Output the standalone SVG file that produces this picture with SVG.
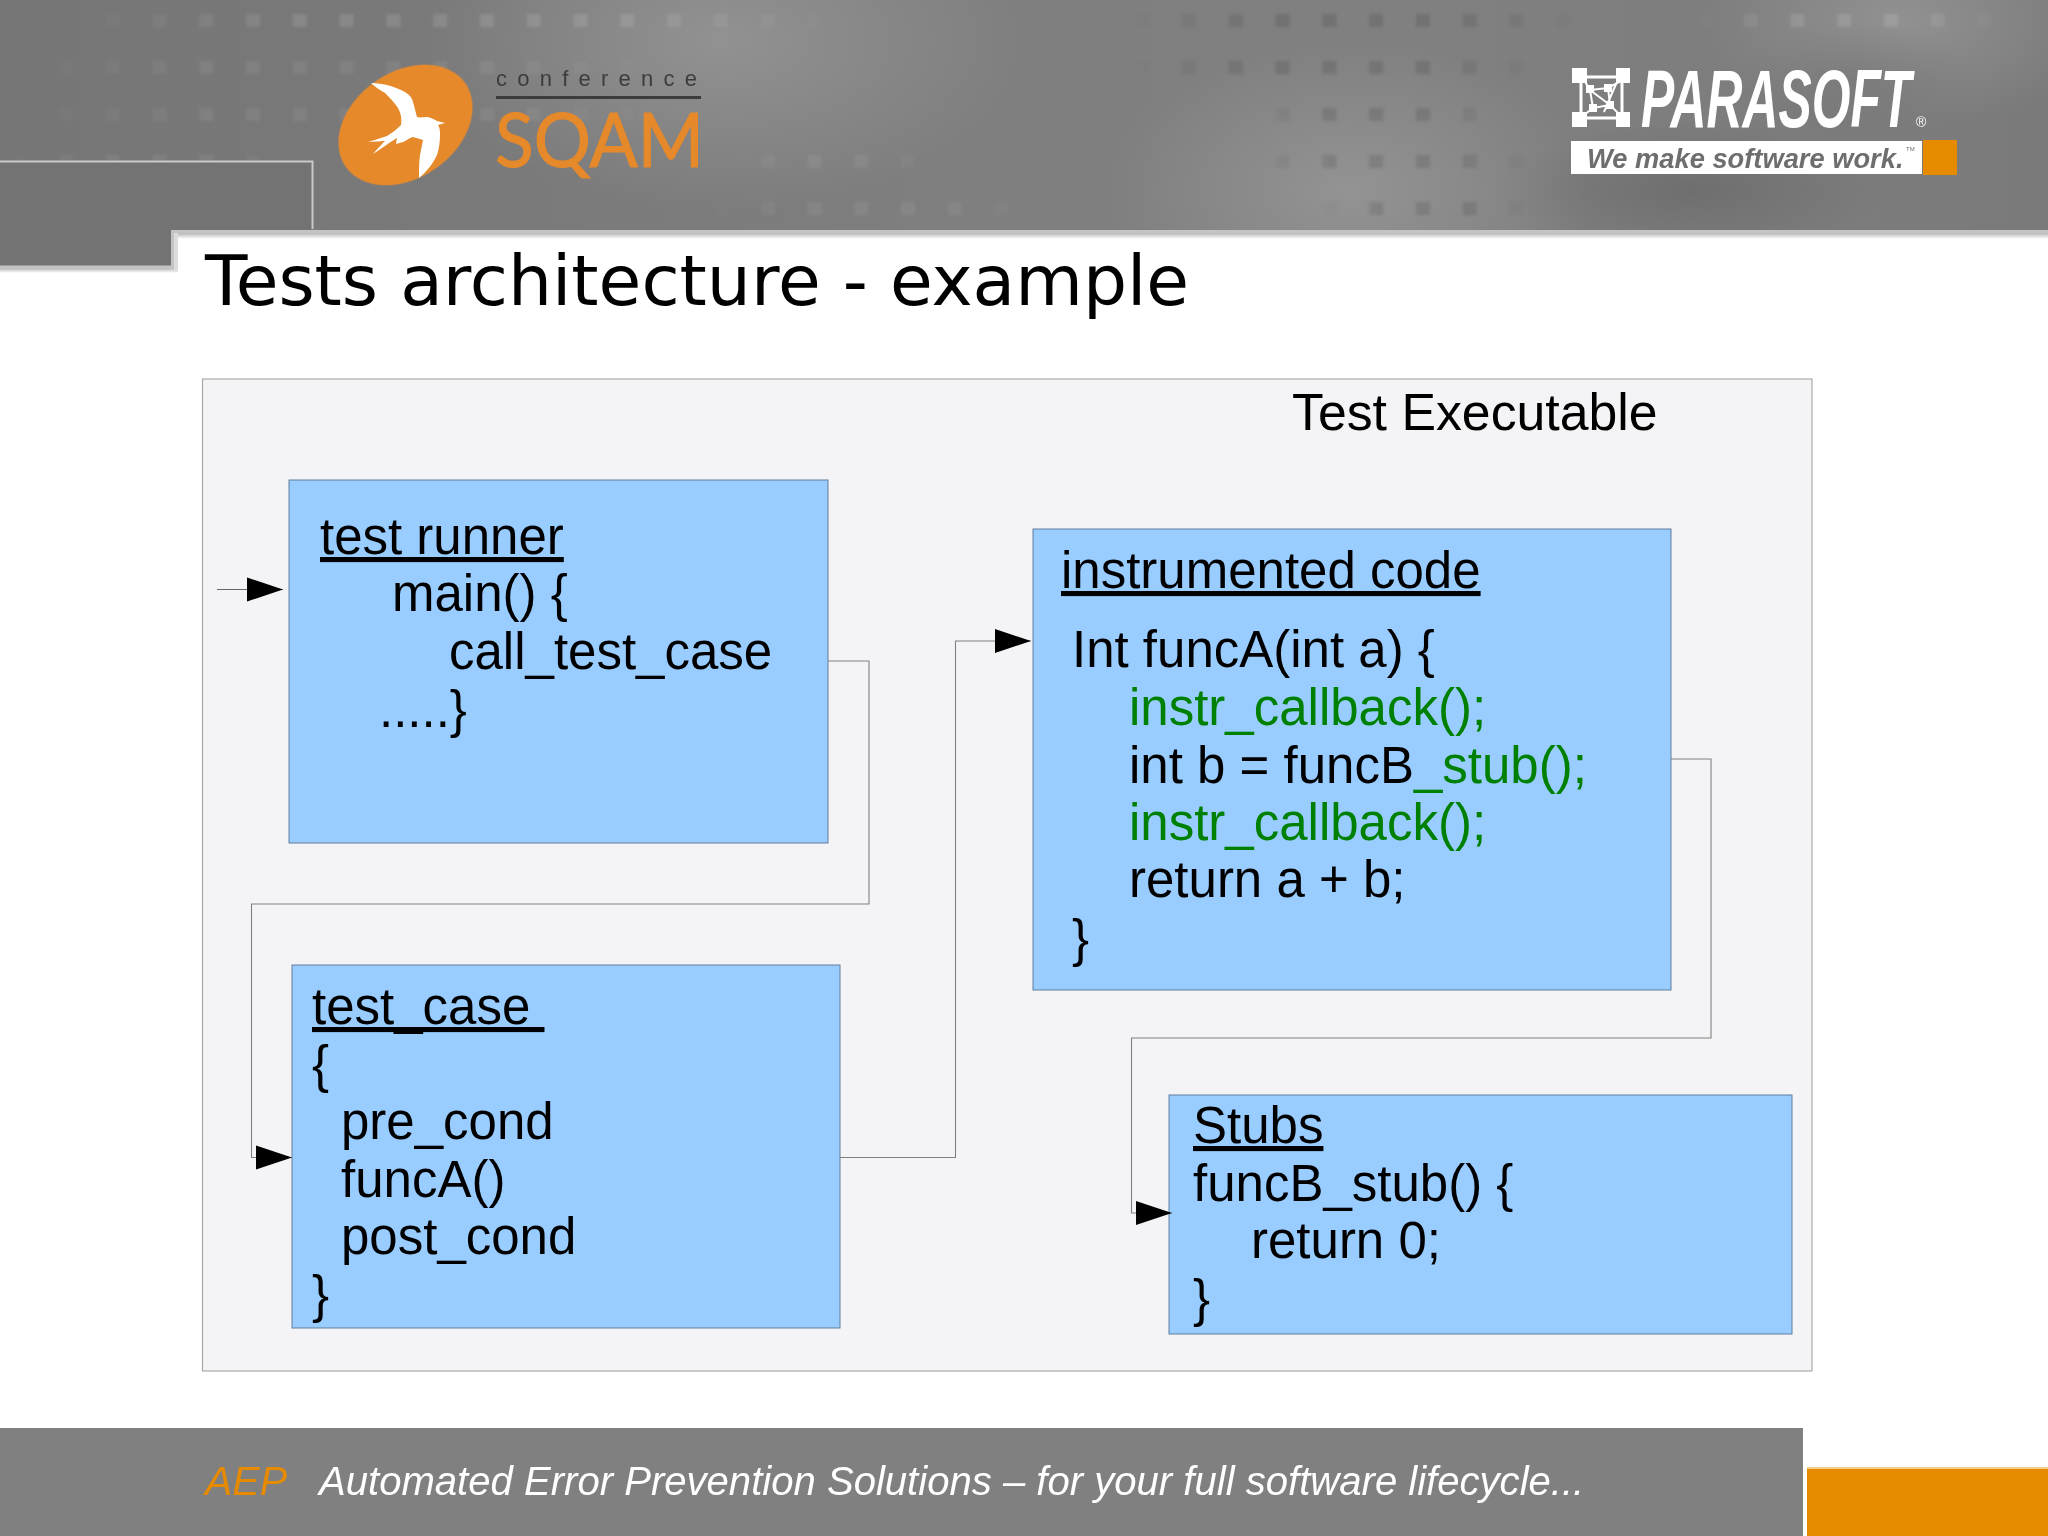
<svg xmlns="http://www.w3.org/2000/svg" width="2048" height="1536" viewBox="0 0 2048 1536">
<style>
.t{font-family:"Liberation Sans",Arial,sans-serif;font-size:51px;fill:#000;white-space:pre}
.g{fill:#008000}
.u{text-decoration:underline;text-decoration-thickness:2.5px}
.box{fill:#99ccff;stroke:#5f7f9c;stroke-width:1}
.c{fill:none;stroke:#808080;stroke-width:1.1}
.f{font-family:"Liberation Sans",Arial,sans-serif;font-style:italic;font-size:40.1px}
</style>
<defs>
<marker id="ah" markerUnits="userSpaceOnUse" markerWidth="38" markerHeight="26" refX="36" refY="12.5" orient="auto"><path d="M0,0.5 L36,12.5 L0,24.5 Z" fill="#000"/></marker>
<clipPath id="hc"><rect width="2048" height="230"/></clipPath>
<filter id="soft" x="-5%" y="-20%" width="110%" height="140%"><feGaussianBlur stdDeviation="1.6"/></filter>
<linearGradient id="hd" x1="0" y1="0" x2="1" y2="0">
<stop offset="0" stop-color="#767676"/><stop offset=".25" stop-color="#7a7a7a"/><stop offset=".48" stop-color="#7f7f7f"/><stop offset=".7" stop-color="#808080"/><stop offset="1" stop-color="#7a7a7a"/>
</linearGradient>
<radialGradient id="l1"><stop offset="0" stop-color="#a0a0a0" stop-opacity=".6"/><stop offset="1" stop-color="#a0a0a0" stop-opacity="0"/></radialGradient>
<radialGradient id="d1"><stop offset="0" stop-color="#5c5c5c" stop-opacity=".45"/><stop offset="1" stop-color="#5c5c5c" stop-opacity="0"/></radialGradient>
<pattern id="dots" x="12" y="0" width="46.8" height="47" patternUnits="userSpaceOnUse"><rect x="0" y="14" width="14" height="13" fill="#000"/></pattern>
<pattern id="dotsL" x="12" y="0" width="46.8" height="47" patternUnits="userSpaceOnUse"><rect x="0" y="14" width="14" height="13" fill="#fff"/></pattern>
<linearGradient id="sh" x1="0" y1="0" x2="0" y2="1"><stop offset="0" stop-color="#b5b5b5"/><stop offset="1" stop-color="#fff"/></linearGradient>
<linearGradient id="fade" x1="0" y1="0" x2="1" y2="0"><stop offset="0" stop-color="#000"/><stop offset=".3" stop-color="#fff"/><stop offset=".7" stop-color="#fff"/><stop offset="1" stop-color="#000"/></linearGradient>
<mask id="m" maskUnits="objectBoundingBox" x="0" y="0" width="1" height="1" maskContentUnits="objectBoundingBox"><rect width="1" height="1" fill="url(#fade)"/></mask>
</defs>
<rect width="2048" height="1536" fill="#fff"/>
<g id="header">
<g clip-path="url(#hc)">
<rect width="2048" height="231" fill="url(#hd)"/>
<ellipse cx="720" cy="40" rx="300" ry="170" fill="url(#l1)"/>
<ellipse cx="1350" cy="190" rx="240" ry="150" fill="url(#l1)"/>
<ellipse cx="1900" cy="20" rx="200" ry="110" fill="url(#l1)"/>
<ellipse cx="1690" cy="190" rx="190" ry="70" fill="url(#d1)"/>
<ellipse cx="1860" cy="80" rx="120" ry="60" fill="url(#d1)" opacity=".5"/>
<g filter="url(#soft)">
<g opacity=".12">
<rect x="60" y="0" width="800" height="47" fill="url(#dotsL)" mask="url(#m)"/>
<rect x="1690" y="0" width="320" height="47" fill="url(#dotsL)" mask="url(#m)"/>
</g>
<g opacity=".07">
<rect x="0" y="47" width="700" height="47" fill="url(#dotsL)" mask="url(#m)"/>
<rect x="0" y="94" width="700" height="47" fill="url(#dotsL)" mask="url(#m)"/>
<rect x="0" y="141" width="300" height="20" fill="url(#dotsL)" mask="url(#m)"/>
<rect x="700" y="188" width="340" height="42" fill="url(#dotsL)" mask="url(#m)"/>
<rect x="720" y="141" width="220" height="47" fill="url(#dotsL)" mask="url(#m)"/>
</g>
<g opacity=".11">
<rect x="1120" y="0" width="470" height="47" fill="url(#dots)" mask="url(#m)"/>
<rect x="1130" y="47" width="420" height="47" fill="url(#dots)" mask="url(#m)"/>
<rect x="1250" y="94" width="260" height="47" fill="url(#dots)" mask="url(#m)"/>
<rect x="1250" y="141" width="290" height="47" fill="url(#dots)" mask="url(#m)"/>
<rect x="1320" y="188" width="210" height="42" fill="url(#dots)" mask="url(#m)"/>
</g>
</g>
<rect x="0" y="162" width="312" height="68" fill="#737373"/>
</g>
<rect x="172" y="233" width="1876" height="6" fill="url(#sh)"/>
<rect x="0" y="268" width="178" height="5" fill="url(#sh)"/>
<rect x="174" y="233" width="4" height="38" fill="#dcdcdc"/>
<rect x="0" y="230" width="172" height="37" fill="#737373"/>
<path d="M0,161.5 H312.5 V229" stroke="#cacaca" stroke-width="2" fill="none"/>
<path d="M0,267 H172.5 V231.5 H2048" stroke="#c4c4c4" stroke-width="3" fill="none"/>
</g>
<g id="logo-sqam">
<ellipse cx="405.5" cy="125" rx="73" ry="53" transform="rotate(-35 405.5 125)" fill="#e5892b"/>
<path d="M371,83 C377,83 382,84 387,85 C394,87 400,89 405,92 C410,95 412,98 413,102 L417,117 C420,118 424,117 428,117 C432,118 435,120 437,121 L445,123 L438,125 C440,128 440,131 440,135 C440,142 439,149 437,155 C433,164 426,172 419,178 C419,170 419,162 420,155 L423,140 L413,137 C409,138 406,141 403,142 L396,144 L397,138 C390,142 381,149 373,154 C377,149 381,145 385,141 L368,142 C375,140 381,138 387,136 C392,133 397,129 401,125 C402,119 401,113 398,108 C394,102 389,97 385,93 C380,90 375,87 371,83 Z" fill="#fff"/>
<text x="496" y="86" textLength="201" lengthAdjust="spacing" style="font-family:'Liberation Sans',sans-serif;font-size:22px;fill:#3c3c3c">conference</text>
<rect x="496" y="96" width="205" height="3" fill="#3c3c3c"/>
<text x="495" y="167" textLength="209" lengthAdjust="spacingAndGlyphs" stroke="#e5892b" stroke-width="1.2" style="font-family:Lato,sans-serif;font-size:76px;fill:#e5892b">SQAM</text>
</g>
<g id="logo-parasoft">
<g fill="none" stroke="#fff" stroke-width="2"><path d="M1581,77 H1622 V118 H1581 Z" stroke-width="3"/><path d="M1584,80 L1590,90 L1608,88 L1619,82 M1590,90 L1593,108 L1610,105 L1608,88 M1584,115 L1593,108 M1610,105 L1619,114 M1616,84 L1604,112 M1590,90 L1610,105"/></g>
<g fill="#fff"><rect x="1572" y="68" width="15" height="15"/><rect x="1616" y="68" width="14" height="15"/><rect x="1572" y="112" width="15" height="15"/><rect x="1616" y="112" width="14" height="15"/><rect x="1586" y="85" width="8" height="8"/><rect x="1604" y="84" width="8" height="8"/><rect x="1589" y="104" width="8" height="8"/><rect x="1606" y="101" width="8" height="8"/></g>
<text transform="translate(1641 127) scale(.615 1)" style="font-family:'Liberation Sans',sans-serif;font-weight:bold;font-style:italic;font-size:81px;fill:#fff">PARASOFT</text>
<text x="1916" y="127" style="font-family:'Liberation Sans',sans-serif;font-size:14px;fill:#fff">®</text>
<rect x="1571" y="141" width="351" height="33" fill="#fff"/>
<rect x="1923" y="140" width="34" height="35" fill="#e68a00"/>
<text transform="translate(1587 168) scale(.975 1)" style="font-family:'Liberation Sans',sans-serif;font-weight:bold;font-style:italic;font-size:28px;fill:#6e6e6e">We make software work.</text>
<text x="1906" y="151" style="font-family:'Liberation Sans',sans-serif;font-size:6px;fill:#6e6e6e">TM</text>
</g>
<text id="title" x="205" y="305" style="font-family:'DejaVu Sans',sans-serif;font-size:69.5px;fill:#000">Tests architecture - example</text>
<g id="test-executable">
<rect x="202.5" y="379" width="1609.5" height="992" fill="#f4f4f6" stroke="#a3a3a3" stroke-width="1.1"/>
<text class="t" x="1292" y="430" style="font-size:51.8px">Test Executable</text>
</g>
<g id="test-runner">
<rect class="box" x="289" y="480" width="539" height="363"/>
<text class="t u" x="320" y="554">test runner</text>
<text class="t" x="392" y="611">main() {</text>
<text class="t" x="449" y="669">call_test_case</text>
<text class="t" x="379" y="727">.....}</text>
</g>
<g id="test-case">
<rect class="box" x="292" y="965" width="548" height="363"/>
<text class="t u" x="312" y="1024">test_case </text>
<text class="t" x="312" y="1082">{</text>
<text class="t" x="341" y="1139">pre_cond</text>
<text class="t" x="341" y="1197">funcA()</text>
<text class="t" x="341" y="1254">post_cond</text>
<text class="t" x="312" y="1312">}</text>
</g>
<g id="instrumented-code">
<rect class="box" x="1033" y="529" width="638" height="461"/>
<text class="t u" x="1061" y="588">instrumented code</text>
<text class="t" x="1072" y="667">Int funcA(int a) {</text>
<text class="t g" x="1129" y="725">instr_callback();</text>
<text class="t" x="1129" y="783">int b = funcB<tspan class="g">_stub();</tspan></text>
<text class="t g" x="1129" y="840">instr_callback();</text>
<text class="t" x="1129" y="897">return a + b;</text>
<text class="t" x="1072" y="956">}</text>
</g>
<g id="stubs">
<rect class="box" x="1169" y="1095" width="623" height="239"/>
<text class="t u" x="1193" y="1143">Stubs</text>
<text class="t" x="1193" y="1201">funcB_stub() {</text>
<text class="t" x="1251" y="1258">return 0;</text>
<text class="t" x="1193" y="1316">}</text>
</g>
<g id="connectors">
<path class="c" d="M217,589.5 H283" style="stroke:#666" marker-end="url(#ah)"/>
<path class="c" d="M828,661 H869 V904 H251.5 V1157.5 H292" marker-end="url(#ah)"/>
<path class="c" d="M840,1157.5 H955.5 V641 H1031" marker-end="url(#ah)"/>
<path class="c" d="M1671,759 H1711 V1038 H1131.5 V1213 H1172" marker-end="url(#ah)"/>
</g>
<g id="footer">
<rect x="0" y="1428" width="1803" height="108" fill="#808080"/>
<rect x="1807" y="1467" width="241" height="69" fill="#e68a00"/>
<rect x="1807" y="1467" width="241" height="2" fill="#f3cf8c"/>
<text class="f" x="205" y="1495" style="fill:#e68a00;font-size:41px">AEP</text>
<text class="f" x="319" y="1495" style="fill:#fff">Automated Error Prevention Solutions – for your full software lifecycle...</text>
</g>
</svg>
